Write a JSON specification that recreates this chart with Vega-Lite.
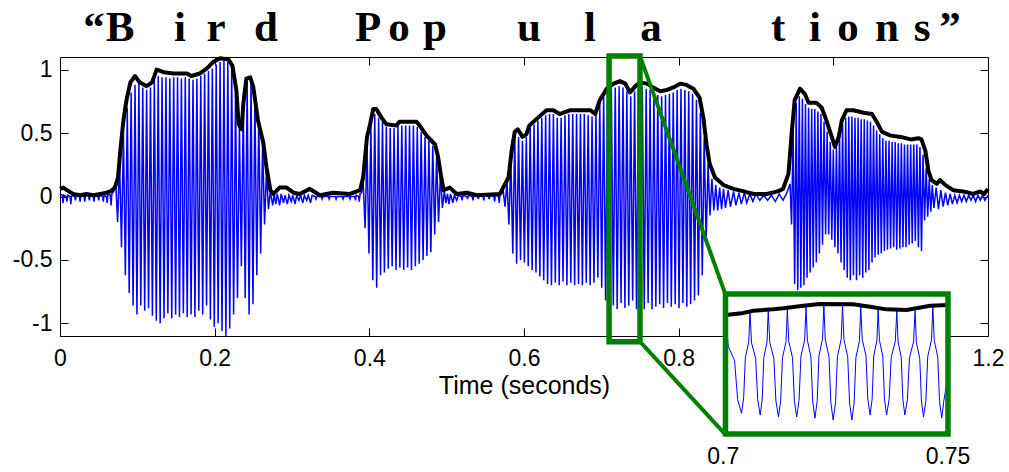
{
"$schema": "https://vega.github.io/schema/vega-lite/v6.json",
"width": 928, "height": 279,
"autosize": "none",
"padding": {"left": 60, "top": 57, "right": 21, "bottom": 136},
"background": "white",
"config": {"view": {"stroke": null}, "axis": {"labelFont": "Liberation Sans", "titleFont": "Liberation Sans", "labelColor": "black", "titleColor": "black", "domainColor": "black", "tickColor": "black", "grid": false, "titleFontWeight": "normal", "labelFlush": false, "labelOverlap": false}},
"datasets": {
"wave": [
{"t":0.000,"v":0.02},{"t":0.003,"v":0.01},{"t":0.004,"v":-0.05},{"t":0.005,"v":0.01},{"t":0.008,"v":0.00},{"t":0.009,"v":-0.04},{"t":0.010,"v":0.01},{"t":0.013,"v":0.00},{"t":0.014,"v":-0.06},{"t":0.015,"v":0.01},{"t":0.019,"v":0.00},{"t":0.020,"v":-0.03},{"t":0.021,"v":0.01},{"t":0.025,"v":0.00},{"t":0.026,"v":-0.04},{"t":0.027,"v":0.01},{"t":0.031,"v":0.00},{"t":0.032,"v":-0.04},{"t":0.033,"v":0.01},{"t":0.037,"v":0.00},{"t":0.038,"v":-0.03},{"t":0.039,"v":0.01},{"t":0.043,"v":0.00},{"t":0.044,"v":-0.04},{"t":0.045,"v":0.01},{"t":0.049,"v":0.00},{"t":0.050,"v":-0.03},{"t":0.051,"v":0.01},{"t":0.055,"v":0.00},{"t":0.056,"v":-0.04},{"t":0.057,"v":0.01},{"t":0.060,"v":0.00},{"t":0.061,"v":-0.05},{"t":0.062,"v":0.02},{"t":0.065,"v":0.01},{"t":0.066,"v":-0.07},{"t":0.067,"v":0.02},{"t":0.0695,"v":0.04},
{"t":0.0720,"v":0.12},{"t":0.0745,"v":-0.20},{"t":0.0770,"v":0.30},{"t":0.0795,"v":-0.40},{"t":0.0820,"v":0.50},{"t":0.0845,"v":-0.62},{"t":0.0870,"v":0.70},{"t":0.0895,"v":-0.76},{"t":0.0920,"v":0.82},{"t":0.0945,"v":-0.86},{"t":0.0970,"v":0.88},{"t":0.0995,"v":-0.93},{"t":0.1020,"v":0.90},{"t":0.1045,"v":-0.86},{"t":0.1070,"v":0.86},{"t":0.1095,"v":-0.90},{"t":0.1120,"v":0.84},{"t":0.1145,"v":-0.88},{"t":0.1170,"v":0.86},{"t":0.1195,"v":-0.94},{"t":0.1220,"v":0.92},{"t":0.1245,"v":-0.98},{"t":0.1270,"v":0.95},{"t":0.1295,"v":-1.00},{"t":0.1320,"v":0.94},{"t":0.1345,"v":-0.96},{"t":0.1370,"v":0.94},{"t":0.1395,"v":-0.92},{"t":0.1420,"v":0.93},{"t":0.1445,"v":-0.96},{"t":0.1470,"v":0.94},{"t":0.1495,"v":-0.93},{"t":0.1520,"v":0.94},{"t":0.1545,"v":-0.95},{"t":0.1570,"v":0.93},{"t":0.1595,"v":-0.92},{"t":0.1620,"v":0.94},{"t":0.1645,"v":-0.95},{"t":0.1670,"v":0.93},{"t":0.1695,"v":-0.93},{"t":0.1720,"v":0.92},{"t":0.1745,"v":-0.95},{"t":0.1770,"v":0.93},{"t":0.1795,"v":-0.90},{"t":0.1820,"v":0.95},{"t":0.1845,"v":-0.93},{"t":0.1870,"v":0.97},{"t":0.1895,"v":-0.86},{"t":0.1920,"v":0.99},{"t":0.1945,"v":-0.97},{"t":0.1970,"v":1.01},{"t":0.1995,"v":-1.03},{"t":0.2020,"v":1.04},{"t":0.2045,"v":-1.00},{"t":0.2070,"v":1.06},{"t":0.2095,"v":-1.06},{"t":0.2120,"v":1.07},{"t":0.2145,"v":-1.10},{"t":0.2170,"v":1.06},{"t":0.2195,"v":-1.04},{"t":0.2220,"v":1.00},{"t":0.2245,"v":-0.93},{"t":0.2270,"v":0.80},{"t":0.2295,"v":-0.80},{"t":0.2320,"v":0.56},{"t":0.2345,"v":-0.55},{"t":0.2370,"v":0.72},{"t":0.2395,"v":-0.80},{"t":0.2420,"v":0.90},{"t":0.2445,"v":-0.93},{"t":0.2470,"v":0.90},{"t":0.2495,"v":-0.85},{"t":0.2520,"v":0.78},{"t":0.2545,"v":-0.62},{"t":0.2570,"v":0.60},{"t":0.2595,"v":-0.45},{"t":0.2620,"v":0.42},{"t":0.2645,"v":-0.22},{"t":0.2670,"v":0.20},{"t":0.2695,"v":-0.10},{"t":0.2720,"v":0.04},
{"t":0.2750,"v":-0.07},{"t":0.2770,"v":0.02},{"t":0.2790,"v":-0.06},{"t":0.2810,"v":0.02},{"t":0.2840,"v":-0.07},{"t":0.2860,"v":0.02},{"t":0.2890,"v":-0.05},{"t":0.2910,"v":0.01},{"t":0.2940,"v":-0.06},{"t":0.2960,"v":0.01},{"t":0.2990,"v":-0.04},{"t":0.3010,"v":0.01},{"t":0.3040,"v":-0.06},{"t":0.3060,"v":0.01},{"t":0.3090,"v":-0.03},{"t":0.3110,"v":0.01},{"t":0.3140,"v":-0.05},{"t":0.3160,"v":0.01},{"t":0.3190,"v":-0.03},{"t":0.3210,"v":0.01},{"t":0.3240,"v":-0.05},{"t":0.3260,"v":0.01},{"t":0.3300,"v":0.00},{"t":0.3310,"v":-0.02},{"t":0.3320,"v":0.00},{"t":0.3380,"v":0.00},{"t":0.3390,"v":-0.02},{"t":0.3400,"v":0.00},{"t":0.3470,"v":0.00},{"t":0.3480,"v":-0.02},{"t":0.3490,"v":0.00},{"t":0.3560,"v":0.00},{"t":0.3570,"v":-0.02},{"t":0.3580,"v":0.00},{"t":0.3650,"v":0.00},{"t":0.3660,"v":-0.02},{"t":0.3670,"v":0.00},{"t":0.3740,"v":0.00},{"t":0.3750,"v":-0.02},{"t":0.3760,"v":0.00},{"t":0.3810,"v":0.00},{"t":0.3820,"v":-0.03},{"t":0.3830,"v":0.01},{"t":0.3860,"v":0.00},{"t":0.3870,"v":-0.04},{"t":0.3880,"v":0.02},{"t":0.3900,"v":0.03},
{"t":0.3920,"v":0.12},{"t":0.3945,"v":-0.25},{"t":0.3970,"v":0.40},{"t":0.3995,"v":-0.45},{"t":0.4020,"v":0.56},{"t":0.4045,"v":-0.66},{"t":0.4070,"v":0.65},{"t":0.4095,"v":-0.72},{"t":0.4120,"v":0.62},{"t":0.4145,"v":-0.62},{"t":0.4170,"v":0.59},{"t":0.4195,"v":-0.60},{"t":0.4220,"v":0.55},{"t":0.4245,"v":-0.57},{"t":0.4270,"v":0.54},{"t":0.4295,"v":-0.55},{"t":0.4320,"v":0.54},{"t":0.4345,"v":-0.58},{"t":0.4370,"v":0.56},{"t":0.4395,"v":-0.56},{"t":0.4420,"v":0.56},{"t":0.4445,"v":-0.58},{"t":0.4470,"v":0.56},{"t":0.4495,"v":-0.56},{"t":0.4520,"v":0.56},{"t":0.4545,"v":-0.58},{"t":0.4570,"v":0.56},{"t":0.4595,"v":-0.55},{"t":0.4620,"v":0.55},{"t":0.4645,"v":-0.53},{"t":0.4670,"v":0.51},{"t":0.4695,"v":-0.50},{"t":0.4720,"v":0.47},{"t":0.4745,"v":-0.47},{"t":0.4770,"v":0.44},{"t":0.4795,"v":-0.44},{"t":0.4820,"v":0.40},{"t":0.4845,"v":-0.30},{"t":0.4870,"v":0.32},{"t":0.4895,"v":-0.20},{"t":0.4920,"v":0.18},{"t":0.4945,"v":-0.09},{"t":0.4970,"v":0.04},
{"t":0.4990,"v":-0.05},{"t":0.5010,"v":0.02},{"t":0.5030,"v":-0.06},{"t":0.5050,"v":0.02},{"t":0.5080,"v":-0.05},{"t":0.5100,"v":0.01},{"t":0.5130,"v":-0.03},{"t":0.5150,"v":0.01},{"t":0.5190,"v":0.00},{"t":0.5200,"v":-0.03},{"t":0.5210,"v":0.01},{"t":0.5260,"v":0.00},{"t":0.5270,"v":-0.02},{"t":0.5280,"v":0.01},{"t":0.5330,"v":0.00},{"t":0.5340,"v":-0.03},{"t":0.5350,"v":0.01},{"t":0.5400,"v":0.00},{"t":0.5410,"v":-0.02},{"t":0.5420,"v":0.01},{"t":0.5470,"v":0.00},{"t":0.5480,"v":-0.03},{"t":0.5490,"v":0.01},{"t":0.5540,"v":0.00},{"t":0.5550,"v":-0.02},{"t":0.5560,"v":0.01},{"t":0.5610,"v":0.00},{"t":0.5620,"v":-0.04},{"t":0.5630,"v":0.01},{"t":0.5670,"v":0.00},{"t":0.5680,"v":-0.05},{"t":0.5690,"v":0.02},{"t":0.5710,"v":0.02},
{"t":0.5730,"v":0.05},{"t":0.5755,"v":-0.08},{"t":0.5780,"v":0.12},{"t":0.5805,"v":-0.22},{"t":0.5830,"v":0.30},{"t":0.5855,"v":-0.45},{"t":0.5880,"v":0.48},{"t":0.5905,"v":-0.53},{"t":0.5930,"v":0.47},{"t":0.5955,"v":-0.50},{"t":0.5980,"v":0.44},{"t":0.6005,"v":-0.52},{"t":0.6030,"v":0.47},{"t":0.6055,"v":-0.55},{"t":0.6080,"v":0.54},{"t":0.6105,"v":-0.58},{"t":0.6130,"v":0.57},{"t":0.6155,"v":-0.60},{"t":0.6180,"v":0.60},{"t":0.6205,"v":-0.63},{"t":0.6230,"v":0.62},{"t":0.6255,"v":-0.66},{"t":0.6280,"v":0.64},{"t":0.6305,"v":-0.69},{"t":0.6330,"v":0.65},{"t":0.6355,"v":-0.70},{"t":0.6380,"v":0.65},{"t":0.6405,"v":-0.68},{"t":0.6430,"v":0.62},{"t":0.6455,"v":-0.70},{"t":0.6480,"v":0.62},{"t":0.6505,"v":-0.67},{"t":0.6530,"v":0.64},{"t":0.6555,"v":-0.70},{"t":0.6580,"v":0.65},{"t":0.6605,"v":-0.68},{"t":0.6630,"v":0.65},{"t":0.6655,"v":-0.70},{"t":0.6680,"v":0.65},{"t":0.6705,"v":-0.69},{"t":0.6730,"v":0.65},{"t":0.6755,"v":-0.70},{"t":0.6780,"v":0.65},{"t":0.6805,"v":-0.68},{"t":0.6830,"v":0.64},{"t":0.6855,"v":-0.70},{"t":0.6880,"v":0.63},{"t":0.6905,"v":-0.68},{"t":0.6930,"v":0.66},{"t":0.6955,"v":-0.64},{"t":0.6980,"v":0.73},{"t":0.7005,"v":-0.72},{"t":0.7030,"v":0.79},{"t":0.7055,"v":-0.82},{"t":0.7080,"v":0.83},{"t":0.7105,"v":-0.88},{"t":0.7130,"v":0.85},{"t":0.7155,"v":-0.86},{"t":0.7180,"v":0.86},{"t":0.7205,"v":-0.89},{"t":0.7230,"v":0.87},{"t":0.7255,"v":-0.84},{"t":0.7280,"v":0.86},{"t":0.7305,"v":-0.88},{"t":0.7330,"v":0.83},{"t":0.7355,"v":-0.86},{"t":0.7380,"v":0.79},{"t":0.7405,"v":-0.82},{"t":0.7430,"v":0.83},{"t":0.7455,"v":-0.89},{"t":0.7480,"v":0.86},{"t":0.7505,"v":-0.86},{"t":0.7530,"v":0.86},{"t":0.7555,"v":-0.89},{"t":0.7580,"v":0.85},{"t":0.7605,"v":-0.84},{"t":0.7630,"v":0.84},{"t":0.7655,"v":-0.89},{"t":0.7680,"v":0.82},{"t":0.7705,"v":-0.87},{"t":0.7730,"v":0.80},{"t":0.7755,"v":-0.85},{"t":0.7780,"v":0.79},{"t":0.7805,"v":-0.88},{"t":0.7830,"v":0.80},{"t":0.7855,"v":-0.84},{"t":0.7880,"v":0.81},{"t":0.7905,"v":-0.87},{"t":0.7930,"v":0.82},{"t":0.7955,"v":-0.85},{"t":0.7980,"v":0.84},{"t":0.8005,"v":-0.88},{"t":0.8030,"v":0.85},{"t":0.8055,"v":-0.84},{"t":0.8080,"v":0.84},{"t":0.8105,"v":-0.87},{"t":0.8130,"v":0.83},{"t":0.8155,"v":-0.85},{"t":0.8180,"v":0.81},{"t":0.8205,"v":-0.82},{"t":0.8230,"v":0.76},{"t":0.8255,"v":-0.78},{"t":0.8280,"v":0.66},{"t":0.8305,"v":-0.62},{"t":0.8330,"v":0.46},{"t":0.8355,"v":-0.35},{"t":0.8380,"v":0.26},{"t":0.8405,"v":-0.15},{"t":0.8430,"v":0.14},{"t":0.8455,"v":-0.11},{"t":0.8480,"v":0.09},{"t":0.8505,"v":-0.11},{"t":0.8530,"v":0.07},{"t":0.8555,"v":-0.10},{"t":0.8580,"v":0.06},{"t":0.8605,"v":-0.09},{"t":0.8640,"v":0.05},{"t":0.8670,"v":-0.08},{"t":0.8710,"v":0.04},{"t":0.8740,"v":-0.07},{"t":0.8780,"v":0.03},{"t":0.8810,"v":-0.06},{"t":0.8850,"v":0.03},{"t":0.8880,"v":-0.05},{"t":0.8920,"v":0.02},{"t":0.8960,"v":-0.04},{"t":0.9000,"v":0.02},{"t":0.9050,"v":-0.03},{"t":0.9100,"v":0.01},{"t":0.9150,"v":-0.03},{"t":0.9200,"v":0.01},{"t":0.9250,"v":-0.04},{"t":0.9300,"v":0.02},{"t":0.9350,"v":-0.03},{"t":0.9400,"v":0.03},
{"t":0.9440,"v":0.10},{"t":0.9460,"v":-0.22},{"t":0.9480,"v":0.52},{"t":0.9500,"v":-0.69},{"t":0.9520,"v":0.74},{"t":0.9540,"v":-0.74},{"t":0.9560,"v":0.79},{"t":0.9580,"v":-0.72},{"t":0.9600,"v":0.77},{"t":0.9620,"v":-0.70},{"t":0.9640,"v":0.73},{"t":0.9660,"v":-0.64},{"t":0.9680,"v":0.70},{"t":0.9700,"v":-0.60},{"t":0.9720,"v":0.69},{"t":0.9740,"v":-0.56},{"t":0.9760,"v":0.69},{"t":0.9780,"v":-0.52},{"t":0.9800,"v":0.67},{"t":0.9820,"v":-0.45},{"t":0.9840,"v":0.65},{"t":0.9860,"v":-0.38},{"t":0.9880,"v":0.59},{"t":0.9900,"v":-0.30},{"t":0.9920,"v":0.51},{"t":0.9940,"v":-0.30},{"t":0.9960,"v":0.43},{"t":0.9980,"v":-0.34},{"t":1.0000,"v":0.37},{"t":1.0020,"v":-0.40},{"t":1.0040,"v":0.39},{"t":1.0060,"v":-0.45},{"t":1.0080,"v":0.49},{"t":1.0100,"v":-0.52},{"t":1.0120,"v":0.57},{"t":1.0140,"v":-0.58},{"t":1.0160,"v":0.62},{"t":1.0180,"v":-0.64},{"t":1.0200,"v":0.63},{"t":1.0220,"v":-0.66},{"t":1.0240,"v":0.63},{"t":1.0260,"v":-0.62},{"t":1.0280,"v":0.62},{"t":1.0300,"v":-0.66},{"t":1.0320,"v":0.62},{"t":1.0340,"v":-0.62},{"t":1.0360,"v":0.61},{"t":1.0380,"v":-0.64},{"t":1.0400,"v":0.61},{"t":1.0420,"v":-0.60},{"t":1.0440,"v":0.60},{"t":1.0460,"v":-0.58},{"t":1.0480,"v":0.59},{"t":1.0500,"v":-0.52},{"t":1.0520,"v":0.56},{"t":1.0540,"v":-0.48},{"t":1.0560,"v":0.52},{"t":1.0580,"v":-0.46},{"t":1.0600,"v":0.49},{"t":1.0620,"v":-0.45},{"t":1.0640,"v":0.46},{"t":1.0660,"v":-0.43},{"t":1.0680,"v":0.44},{"t":1.0700,"v":-0.42},{"t":1.0720,"v":0.44},{"t":1.0740,"v":-0.41},{"t":1.0760,"v":0.43},{"t":1.0780,"v":-0.40},{"t":1.0800,"v":0.43},{"t":1.0820,"v":-0.42},{"t":1.0840,"v":0.42},{"t":1.0860,"v":-0.41},{"t":1.0880,"v":0.42},{"t":1.0900,"v":-0.40},{"t":1.0920,"v":0.41},{"t":1.0940,"v":-0.40},{"t":1.0960,"v":0.41},{"t":1.0980,"v":-0.38},{"t":1.1000,"v":0.41},{"t":1.1020,"v":-0.37},{"t":1.1040,"v":0.41},{"t":1.1060,"v":-0.35},{"t":1.1080,"v":0.41},{"t":1.1100,"v":-0.40},{"t":1.1120,"v":0.39},{"t":1.1140,"v":-0.43},{"t":1.1160,"v":0.33},{"t":1.1180,"v":-0.19},{"t":1.1200,"v":0.22},{"t":1.1220,"v":-0.16},{"t":1.1240,"v":0.14},{"t":1.1260,"v":-0.12},{"t":1.1280,"v":0.09},{"t":1.1300,"v":-0.09},
{"t":1.1330,"v":0.07},{"t":1.1360,"v":-0.10},{"t":1.1390,"v":0.05},{"t":1.1420,"v":-0.08},{"t":1.1450,"v":0.03},{"t":1.1480,"v":-0.07},{"t":1.1510,"v":0.02},{"t":1.1540,"v":-0.06},{"t":1.1570,"v":0.01},{"t":1.1600,"v":-0.05},{"t":1.1630,"v":0.01},{"t":1.1660,"v":-0.04},{"t":1.1690,"v":0.01},{"t":1.1720,"v":-0.04},{"t":1.1750,"v":0.01},{"t":1.1780,"v":-0.03},{"t":1.1810,"v":0.01},{"t":1.1840,"v":-0.04},{"t":1.1870,"v":0.01},{"t":1.1900,"v":-0.03},{"t":1.1930,"v":0.01},{"t":1.1960,"v":-0.03},{"t":1.2000,"v":0.01}
],
"env": [
{"t":0.000,"v":0.06},{"t":0.004,"v":0.07},{"t":0.009,"v":0.05},{"t":0.017,"v":0.02},{"t":0.026,"v":0.01},{"t":0.034,"v":0.02},{"t":0.043,"v":0.01},{"t":0.052,"v":0.02},{"t":0.060,"v":0.03},{"t":0.065,"v":0.04},{"t":0.071,"v":0.07},{"t":0.075,"v":0.15},{"t":0.078,"v":0.36},{"t":0.082,"v":0.60},{"t":0.086,"v":0.76},{"t":0.091,"v":0.90},{"t":0.097,"v":0.95},{"t":0.103,"v":0.90},{"t":0.112,"v":0.87},{"t":0.119,"v":0.90},{"t":0.125,"v":1.00},{"t":0.134,"v":0.98},{"t":0.147,"v":0.97},{"t":0.164,"v":0.97},{"t":0.170,"v":0.95},{"t":0.181,"v":0.97},{"t":0.190,"v":1.01},{"t":0.198,"v":1.06},{"t":0.207,"v":1.09},{"t":0.218,"v":1.08},{"t":0.223,"v":1.03},{"t":0.228,"v":0.84},{"t":0.231,"v":0.57},{"t":0.235,"v":0.53},{"t":0.237,"v":0.73},{"t":0.241,"v":0.93},{"t":0.246,"v":0.94},{"t":0.250,"v":0.86},{"t":0.256,"v":0.60},{"t":0.263,"v":0.42},{"t":0.267,"v":0.23},{"t":0.272,"v":0.05},{"t":0.276,"v":0.02},{"t":0.284,"v":0.07},{"t":0.293,"v":0.07},{"t":0.302,"v":0.03},{"t":0.310,"v":0.02},{"t":0.323,"v":0.06},{"t":0.336,"v":0.01},{"t":0.353,"v":0.03},{"t":0.375,"v":0.02},{"t":0.388,"v":0.05},{"t":0.392,"v":0.15},{"t":0.397,"v":0.47},{"t":0.401,"v":0.57},{"t":0.405,"v":0.69},{"t":0.409,"v":0.69},{"t":0.416,"v":0.62},{"t":0.422,"v":0.57},{"t":0.435,"v":0.56},{"t":0.439,"v":0.59},{"t":0.461,"v":0.59},{"t":0.465,"v":0.56},{"t":0.474,"v":0.48},{"t":0.485,"v":0.41},{"t":0.489,"v":0.31},{"t":0.493,"v":0.15},{"t":0.496,"v":0.05},{"t":0.504,"v":0.07},{"t":0.513,"v":0.02},{"t":0.526,"v":0.03},{"t":0.539,"v":0.01},{"t":0.569,"v":0.02},{"t":0.573,"v":0.07},{"t":0.580,"v":0.15},{"t":0.584,"v":0.36},{"t":0.588,"v":0.51},{"t":0.592,"v":0.53},{"t":0.598,"v":0.47},{"t":0.603,"v":0.49},{"t":0.607,"v":0.56},{"t":0.616,"v":0.61},{"t":0.629,"v":0.68},{"t":0.638,"v":0.68},{"t":0.646,"v":0.65},{"t":0.659,"v":0.68},{"t":0.677,"v":0.68},{"t":0.686,"v":0.68},{"t":0.692,"v":0.65},{"t":0.698,"v":0.76},{"t":0.707,"v":0.85},{"t":0.716,"v":0.89},{"t":0.724,"v":0.91},{"t":0.731,"v":0.89},{"t":0.737,"v":0.82},{"t":0.744,"v":0.87},{"t":0.750,"v":0.90},{"t":0.759,"v":0.89},{"t":0.767,"v":0.86},{"t":0.776,"v":0.83},{"t":0.785,"v":0.84},{"t":0.793,"v":0.86},{"t":0.802,"v":0.89},{"t":0.810,"v":0.88},{"t":0.819,"v":0.85},{"t":0.827,"v":0.78},{"t":0.832,"v":0.62},{"t":0.836,"v":0.41},{"t":0.840,"v":0.26},{"t":0.847,"v":0.15},{"t":0.858,"v":0.09},{"t":0.871,"v":0.06},{"t":0.884,"v":0.04},{"t":0.897,"v":0.02},{"t":0.914,"v":0.02},{"t":0.928,"v":0.04},{"t":0.935,"v":0.06},{"t":0.942,"v":0.18},{"t":0.946,"v":0.49},{"t":0.950,"v":0.76},{"t":0.957,"v":0.85},{"t":0.963,"v":0.81},{"t":0.968,"v":0.74},{"t":0.978,"v":0.74},{"t":0.985,"v":0.70},{"t":0.991,"v":0.60},{"t":0.998,"v":0.47},{"t":1.002,"v":0.39},{"t":1.007,"v":0.47},{"t":1.011,"v":0.60},{"t":1.017,"v":0.68},{"t":1.026,"v":0.68},{"t":1.039,"v":0.66},{"t":1.050,"v":0.65},{"t":1.056,"v":0.59},{"t":1.063,"v":0.51},{"t":1.074,"v":0.48},{"t":1.087,"v":0.47},{"t":1.100,"v":0.45},{"t":1.110,"v":0.46},{"t":1.114,"v":0.45},{"t":1.119,"v":0.36},{"t":1.123,"v":0.20},{"t":1.127,"v":0.13},{"t":1.134,"v":0.10},{"t":1.138,"v":0.13},{"t":1.145,"v":0.09},{"t":1.155,"v":0.05},{"t":1.168,"v":0.04},{"t":1.181,"v":0.02},{"t":1.190,"v":0.04},{"t":1.195,"v":0.02},{"t":1.200,"v":0.06}
],
"iwave": [
{"t":0.7001,"v":0.72},{"t":0.70063,"v":0.26},{"t":0.70203,"v":0.04},{"t":0.70273,"v":-0.59},{"t":0.7036,"v":-0.81},{"t":0.70408,"v":-0.565},{"t":0.70446,"v":0.087},{"t":0.70522,"v":0.331},{"t":0.7055,"v":0.82},{"t":0.70585,"v":0.322},{"t":0.70677,"v":0.073},{"t":0.70723,"v":-0.591},{"t":0.7078,"v":-0.84},{"t":0.70825,"v":-0.588},{"t":0.70861,"v":0.084},{"t":0.70933,"v":0.336},{"t":0.7096,"v":0.84},{"t":0.70995,"v":0.327},{"t":0.71087,"v":0.07},{"t":0.71133,"v":-0.614},{"t":0.7119,"v":-0.87},{"t":0.7124,"v":-0.61},{"t":0.7128,"v":0.082},{"t":0.7136,"v":0.341},{"t":0.7139,"v":0.86},{"t":0.71422,"v":0.341},{"t":0.71506,"v":0.081},{"t":0.71548,"v":-0.611},{"t":0.716,"v":-0.87},{"t":0.71653,"v":-0.604},{"t":0.71695,"v":0.104},{"t":0.71779,"v":0.369},{"t":0.7181,"v":0.9},{"t":0.7184,"v":0.363},{"t":0.7192,"v":0.094},{"t":0.7196,"v":-0.622},{"t":0.7201,"v":-0.89},{"t":0.7206,"v":-0.617},{"t":0.721,"v":0.111},{"t":0.7218,"v":0.384},{"t":0.7221,"v":0.93},{"t":0.72242,"v":0.375},{"t":0.72326,"v":0.097},{"t":0.72368,"v":-0.643},{"t":0.7242,"v":-0.92},{"t":0.72473,"v":-0.642},{"t":0.72515,"v":0.098},{"t":0.72599,"v":0.375},{"t":0.7263,"v":0.93},{"t":0.72662,"v":0.375},{"t":0.72746,"v":0.097},{"t":0.72788,"v":-0.643},{"t":0.7284,"v":-0.92},{"t":0.7289,"v":-0.647},{"t":0.7293,"v":0.081},{"t":0.7301,"v":0.354},{"t":0.7304,"v":0.9},{"t":0.73072,"v":0.378},{"t":0.73156,"v":0.117},{"t":0.73198,"v":-0.579},{"t":0.7325,"v":-0.84},{"t":0.73295,"v":-0.582},{"t":0.73331,"v":0.106},{"t":0.73403,"v":0.364},{"t":0.7343,"v":0.88},{"t":0.73459,"v":0.364},{"t":0.73535,"v":0.106},{"t":0.73573,"v":-0.582},{"t":0.7362,"v":-0.84},{"t":0.73678,"v":-0.586},{"t":0.73724,"v":0.09},{"t":0.73816,"v":0.343},{"t":0.7385,"v":0.85},{"t":0.73877,"v":0.343},{"t":0.73949,"v":0.089},{"t":0.73985,"v":-0.587},{"t":0.7403,"v":-0.84},{"t":0.74088,"v":-0.588},{"t":0.74134,"v":0.084},{"t":0.74226,"v":0.336},{"t":0.7426,"v":0.84},{"t":0.74289,"v":0.327},{"t":0.74365,"v":0.07},{"t":0.74403,"v":-0.614},{"t":0.7445,"v":-0.87},{"t":0.74503,"v":-0.604},{"t":0.74545,"v":0.104},{"t":0.74629,"v":0.369},{"t":0.7466,"v":0.9},{"t":0.7469,"v":0.363},{"t":0.7477,"v":0.094},{"t":0.7481,"v":-0.622},{"t":0.7486,"v":-0.89},{"t":0.74905,"v":-0.62},{"t":0.75,"v":-0.2}
],
"ienv": [
{"t":0.7000,"v":0.77},{"t":0.7036,"v":0.796},{"t":0.7062,"v":0.838},{"t":0.7107,"v":0.860},{"t":0.7130,"v":0.877},{"t":0.7175,"v":0.919},{"t":0.7212,"v":0.946},{"t":0.7287,"v":0.941},{"t":0.7325,"v":0.903},{"t":0.7362,"v":0.860},{"t":0.7407,"v":0.850},{"t":0.7460,"v":0.919},{"t":0.7500,"v":0.930}
],
"ilabels": [{"t":0.6995,"label":"0.7"},{"t":0.7500,"label":"0.75"}],
"letters": [
{"t":0.0440,"c":"“"},{"t":0.0776,"c":"B"},{"t":0.1552,"c":"i"},{"t":0.2017,"c":"r"},{"t":0.2664,"c":"d"},{"t":0.3983,"c":"P"},{"t":0.4384,"c":"o"},{"t":0.4849,"c":"p"},{"t":0.6065,"c":"u"},{"t":0.6854,"c":"l"},{"t":0.7643,"c":"a"},{"t":0.9285,"c":"t"},{"t":0.9763,"c":"i"},{"t":1.0190,"c":"o"},{"t":1.0694,"c":"n"},{"t":1.1147,"c":"s"},{"t":1.1509,"c":"”"}
],
"zoombox": [{"x1":0.71,"x2":0.75,"y1":-1.145,"y2":1.107}],
"connectors": [{"x1":0.75,"y1":1.107,"x2":0.8606,"y2":-0.774},{"x1":0.75,"y1":-1.145,"x2":0.8606,"y2":-1.878}],
"insetbox": [{"x1":0.7,"x2":0.75,"y1":-1.145,"y2":1.107}]
},
"layer": [
{
"layer": [
{"data": {"name": "wave"}, "mark": {"type": "line", "color": "#0000ff", "strokeWidth": 1.5},
 "encoding": {
  "x": {"field": "t", "type": "quantitative", "scale": {"domain": [0, 1.2], "nice": false, "zero": false}, "axis": {"orient": "top", "labels": false, "values": [0.2, 0.4, 0.6, 0.8, 1.0], "tickSize": -8, "title": null}},
  "y": {"field": "v", "type": "quantitative", "scale": {"domain": [-1.1, 1.1], "nice": false, "zero": false}, "axis": {"orient": "right", "labels": false, "values": [-1, -0.5, 0, 0.5, 1], "tickSize": -8, "title": null}}}},
{"data": {"name": "env"}, "mark": {"type": "line", "color": "black", "strokeWidth": 4, "strokeJoin": "round"},
 "encoding": {
  "x": {"field": "t", "type": "quantitative", "scale": {"domain": [0, 1.2], "nice": false, "zero": false}, "axis": {"orient": "bottom", "values": [0, 0.2, 0.4, 0.6, 0.8, 1, 1.2], "format": "~g", "tickSize": -8, "labelPadding": 19, "labelFontSize": 23, "title": "Time (seconds)", "titleFontSize": 25, "titlePadding": 3}},
  "y": {"field": "v", "type": "quantitative", "scale": {"domain": [-1.1, 1.1], "nice": false, "zero": false}, "axis": {"orient": "left", "values": [-1, -0.5, 0, 0.5, 1], "format": "~g", "labelExpr": "replace(datum.label, '−', '-')", "tickSize": -8, "labelPadding": 16, "labelFontSize": 23, "title": null}}}},
{"data": {"name": "letters"}, "mark": {"type": "text", "font": "Liberation Serif", "fontWeight": "bold", "fontSize": 43, "baseline": "alphabetic", "align": "center", "color": "black"},
 "encoding": {
  "x": {"field": "t", "type": "quantitative", "scale": {"domain": [0, 1.2], "nice": false, "zero": false}, "axis": null},
  "y": {"datum": 1.23, "type": "quantitative", "scale": {"domain": [-1.1, 1.1], "nice": false, "zero": false}, "axis": null},
  "text": {"field": "c"}}},
{"data": {"name": "zoombox"}, "mark": {"type": "rect", "fillOpacity": 0, "stroke": "#008000", "strokeWidth": 5.5},
 "encoding": {
  "x": {"field": "x1", "type": "quantitative", "scale": {"domain": [0, 1.2], "nice": false, "zero": false}, "axis": null},
  "x2": {"field": "x2"},
  "y": {"field": "y1", "type": "quantitative", "scale": {"domain": [-1.1, 1.1], "nice": false, "zero": false}, "axis": null},
  "y2": {"field": "y2"}}},
{"data": {"name": "connectors"}, "mark": {"type": "rule", "color": "#008000", "strokeWidth": 4},
 "encoding": {
  "x": {"field": "x1", "type": "quantitative", "scale": {"domain": [0, 1.2], "nice": false, "zero": false}, "axis": null},
  "x2": {"field": "x2"},
  "y": {"field": "y1", "type": "quantitative", "scale": {"domain": [-1.1, 1.1], "nice": false, "zero": false}, "axis": null},
  "y2": {"field": "y2"}}}
],
"resolve": {"axis": {"x": "independent", "y": "independent"}}
},
{
"layer": [
{"data": {"name": "insetbox"}, "mark": {"type": "rect", "fill": "white", "strokeWidth": 0},
 "encoding": {
  "x": {"field": "x1", "type": "quantitative", "scale": {"domain": [0.7, 0.75], "range": [665.5, 888], "nice": false, "zero": false}, "axis": null},
  "x2": {"field": "x2"},
  "y": {"field": "y1", "type": "quantitative", "scale": {"domain": [-1.145, 1.107], "range": [377, 237], "nice": false, "zero": false}, "axis": null},
  "y2": {"field": "y2"}}},
{"data": {"name": "iwave"}, "mark": {"type": "line", "color": "#0000ff", "strokeWidth": 1},
 "encoding": {
  "x": {"field": "t", "type": "quantitative", "scale": {"domain": [0.7, 0.75], "range": [665.5, 888], "nice": false, "zero": false}, "axis": null},
  "y": {"field": "v", "type": "quantitative", "scale": {"domain": [-1.145, 1.107], "range": [377, 237], "nice": false, "zero": false}, "axis": null}}},
{"data": {"name": "ienv"}, "mark": {"type": "line", "color": "black", "strokeWidth": 4},
 "encoding": {
  "x": {"field": "t", "type": "quantitative", "scale": {"domain": [0.7, 0.75], "range": [665.5, 888], "nice": false, "zero": false}, "axis": null},
  "y": {"field": "v", "type": "quantitative", "scale": {"domain": [-1.145, 1.107], "range": [377, 237], "nice": false, "zero": false}, "axis": null}}},
{"data": {"name": "insetbox"}, "mark": {"type": "rect", "fillOpacity": 0, "stroke": "#008000", "strokeWidth": 5.5},
 "encoding": {
  "x": {"field": "x1", "type": "quantitative", "scale": {"domain": [0.7, 0.75], "range": [665.5, 888], "nice": false, "zero": false}, "axis": null},
  "x2": {"field": "x2"},
  "y": {"field": "y1", "type": "quantitative", "scale": {"domain": [-1.145, 1.107], "range": [377, 237], "nice": false, "zero": false}, "axis": null},
  "y2": {"field": "y2"}}},
{"data": {"name": "ilabels"}, "mark": {"type": "text", "font": "Liberation Sans", "fontSize": 23, "baseline": "middle", "align": "center", "color": "black"},
 "encoding": {
  "x": {"field": "t", "type": "quantitative", "scale": {"domain": [0.7, 0.75], "range": [665.5, 888], "nice": false, "zero": false}, "axis": null},
  "y": {"datum": -1.507, "type": "quantitative", "scale": {"domain": [-1.145, 1.107], "range": [377, 237], "nice": false, "zero": false}, "axis": null},
  "text": {"field": "label"}}}
]
}
],
"resolve": {"scale": {"x": "independent", "y": "independent"}}
}
